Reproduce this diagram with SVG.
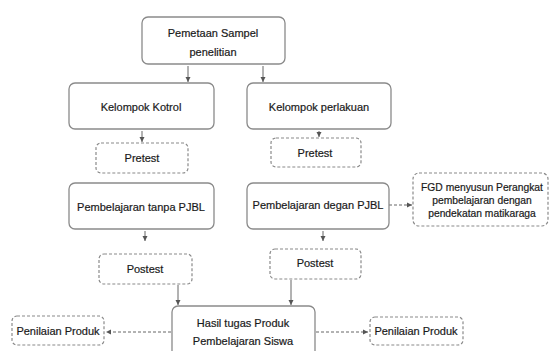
<svg xmlns="http://www.w3.org/2000/svg" width="549" height="351" viewBox="0 0 549 351">
<defs>
<marker id="ah" markerWidth="6" markerHeight="6" refX="5" refY="3" orient="auto" markerUnits="userSpaceOnUse">
<path d="M0,0.5 L5,3 L0,5.5 Z" fill="#555"/>
</marker>
</defs>
<style>
.box{fill:#fff;stroke:#8a8a8a;stroke-width:1.3}
.dbox{fill:#fff;stroke:#8a8a8a;stroke-width:1.2;stroke-dasharray:3 2}
.t{font-family:"Liberation Sans",Arial,sans-serif;font-size:11px;fill:#1a1a1a;text-anchor:middle;stroke:#1a1a1a;stroke-width:0.2}
.s{font-size:10.3px}
.c{stroke:#666;stroke-width:1;fill:none;marker-end:url(#ah)}
.cd{stroke:#666;stroke-width:1;fill:none;stroke-dasharray:3 2;marker-end:url(#ah)}
</style>
<rect width="549" height="351" fill="#fff"/>
<g id="connectors">
<line class="c" x1="188" y1="66" x2="188" y2="82"/>
<line class="c" x1="263" y1="66" x2="263" y2="82"/>
<line class="c" x1="142" y1="131" x2="142" y2="142"/>
<line class="c" x1="319" y1="131" x2="319" y2="137"/>
<line class="c" x1="145" y1="231" x2="145" y2="241"/>
<line class="c" x1="323" y1="231" x2="323" y2="241"/>
<line class="cd" x1="389" y1="205" x2="412" y2="205"/>
<line class="c" x1="178" y1="285" x2="178" y2="305"/>
<line class="c" x1="291" y1="280" x2="291" y2="305"/>
<line class="cd" x1="171" y1="332" x2="106" y2="332"/>
<line class="cd" x1="316" y1="332" x2="368" y2="332"/>
</g>
<g id="pemetaan">
<rect class="box" x="142" y="17" width="143" height="47" rx="6"/>
<text class="t" x="213" y="37">Pemetaan Sampel</text>
<text class="t" x="213" y="56">penelitian</text>
</g>
<g id="kotrol">
<rect class="box" x="69" y="83" width="145" height="46" rx="6"/>
<text class="t" x="141" y="111">Kelompok Kotrol</text>
</g>
<g id="perlakuan">
<rect class="box" x="247" y="83" width="144" height="46" rx="6"/>
<text class="t" x="319" y="111">Kelompok perlakuan</text>
</g>
<g id="pretest1">
<rect class="dbox" x="96" y="143" width="92" height="30" rx="5"/>
<text class="t" x="142" y="162">Pretest</text>
</g>
<g id="pretest2">
<rect class="dbox" x="271" y="138" width="90" height="29" rx="5"/>
<text class="t" x="315" y="157">Pretest</text>
</g>
<g id="tanpa">
<rect class="box" x="69" y="183" width="145" height="46" rx="6"/>
<text class="t" x="141" y="211">Pembelajaran tanpa PJBL</text>
</g>
<g id="degan">
<rect class="box" x="247" y="183" width="142" height="46" rx="6"/>
<text class="t" x="318" y="209">Pembelajaran degan PJBL</text>
</g>
<g id="fgd">
<rect class="dbox" x="413" y="173" width="135" height="53" rx="6"/>
<text class="t s" x="482" y="191">FGD menyusun Perangkat</text>
<text class="t s" x="482" y="204">pembelajaran dengan</text>
<text class="t s" x="482" y="217">pendekatan matikaraga</text>
</g>
<g id="postest1">
<rect class="dbox" x="99" y="254" width="93" height="30" rx="5"/>
<text class="t" x="145" y="273">Postest</text>
</g>
<g id="postest2">
<rect class="dbox" x="270" y="249" width="91" height="30" rx="5"/>
<text class="t" x="315" y="267">Postest</text>
</g>
<g id="hasil">
<rect class="box" x="172" y="306" width="143" height="56" rx="6"/>
<text class="t" x="243" y="327">Hasil tugas Produk</text>
<text class="t" x="243" y="345">Pembelajaran Siswa</text>
</g>
<g id="penilaian1">
<rect class="dbox" x="12" y="316" width="92" height="29" rx="5"/>
<text class="t" x="58" y="335">Penilaian Produk</text>
</g>
<g id="penilaian2">
<rect class="dbox" x="370" y="317" width="93" height="28" rx="5"/>
<text class="t" x="416" y="335">Penilaian Produk</text>
</g>
</svg>
